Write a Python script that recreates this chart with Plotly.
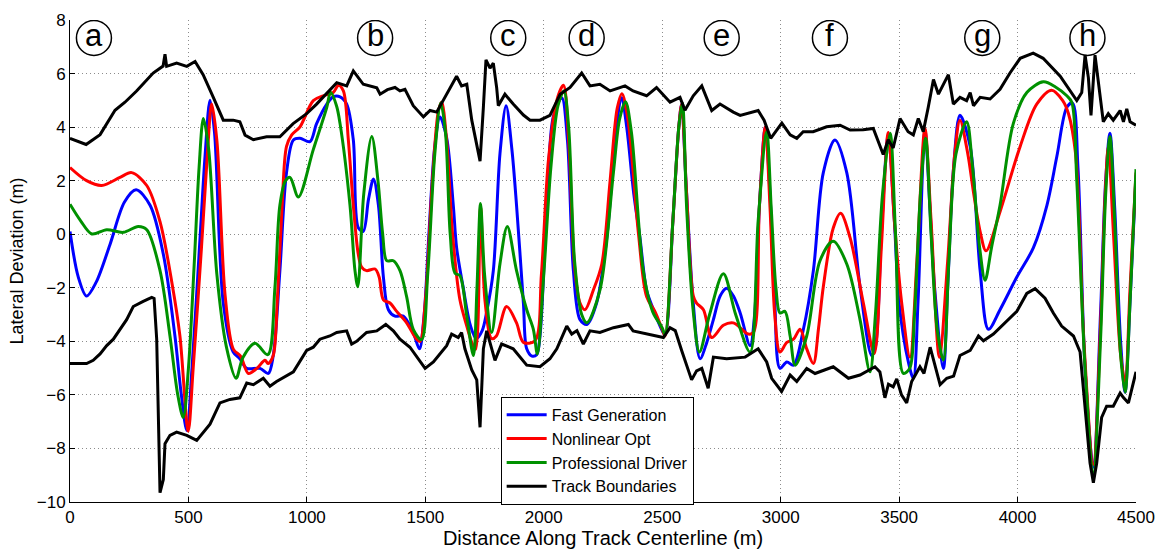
import plotly.graph_objects as go

# ---------------- data (distance m, lateral deviation m) ----------------
fast_generation = [
    (0, 0.1), (35, -1.6), (70, -2.31), (110, -1.8), (169, -0.38), (230, 1.2), (279, 1.66), (338, 1.08),
    (394, -0.75), (443, -3.8), (470, -6.0), (493, -7.33), (515, -5.0), (549, -0.13), (570, 2.91), (591, 5.0),
    (610, 3.8), (647, -2.57), (689, -4.4), (717, -4.65), (746, -5.01), (802, -5.01), (837, -5.2), (858, -4.53),
    (886, -1.36), (914, 2.3), (943, 3.52), (971, 3.58), (1013, 3.46), (1041, 4.13), (1084, 4.86), (1111, 5.13),
    (1140, 5.13), (1168, 4.86), (1196, 3.52), (1217, 0.24), (1238, 0.11), (1260, 1.3), (1281, 2.06), (1302, 1.08),
    (1323, -1.6), (1344, -2.82), (1372, -3.06), (1407, -3.06), (1449, -3.67), (1475, -4.28), (1495, -3.0),
    (1515, 0.0), (1540, 3.3), (1562, 4.38), (1590, 3.6), (1618, 1.08), (1632, -0.5), (1660, -2.0), (1690, -3.4),
    (1715, -3.9), (1740, -3.6), (1759, -2.9), (1787, -1.36), (1815, 3.0), (1841, 4.8), (1865, 3.2), (1885, 1.08),
    (1914, -2.57), (1928, -4.28), (1950, -4.55), (1970, -4.5), (1984, -3.8), (2013, 1.08), (2040, 4.38),
    (2076, 5.1), (2100, 3.5), (2125, -1.36), (2153, -3.19), (2182, -3.37), (2223, -2.57), (2266, -0.13),
    (2308, 4.13), (2329, 5.1), (2350, 4.0), (2380, 1.5), (2406, -0.13), (2434, -2.09), (2463, -2.82),
    (2497, -3.55), (2512, -3.75), (2545, 0.5), (2570, 4.0), (2582, 4.85), (2600, 2.0), (2631, -2.57),
    (2660, -4.65), (2688, -4.04), (2716, -3.19), (2745, -2.3), (2772, -2.02), (2800, -2.3), (2829, -2.94),
    (2871, -4.16), (2890, -3.0), (2910, 1.0), (2935, 4.0), (2955, 1.5), (2975, -2.5), (2997, -5.01),
    (3026, -4.77), (3054, -4.89), (3096, -3.55), (3138, -1.36), (3180, 2.3), (3229, 3.52), (3279, 2.3),
    (3335, -1.96), (3384, -4.53), (3400, -4.2), (3425, 0.0), (3454, 3.7), (3480, 0.5), (3500, -2.57),
    (3539, -4.77), (3560, -5.38), (3580, -2.5), (3609, 3.89), (3630, 1.0), (3650, -2.0), (3687, -5.01),
    (3705, -2.0), (3730, 2.5), (3757, 4.44), (3800, 3.28), (3842, -1.36), (3877, -3.55), (3926, -2.82),
    (3997, -1.6), (4067, -0.5), (4124, 1.08), (4166, 2.91), (4208, 4.74), (4232, 4.9), (4255, 2.5),
    (4285, -5.0), (4320, -8.7), (4350, -3.0), (4372, 2.0), (4390, 3.77), (4410, 1.0), (4435, -4.0),
    (4454, -5.9), (4475, -2.5), (4500, 2.2),
]

nonlinear_opt = [
    (0, 2.49), (70, 2.0), (134, 1.82), (211, 2.12), (260, 2.3), (324, 1.82), (380, 0.47), (430, -1.8),
    (464, -3.8), (499, -7.35), (520, -5.0), (555, -0.5), (580, 3.0), (598, 4.86), (620, 3.5), (655, -2.3),
    (690, -4.3), (720, -4.55), (753, -5.2), (790, -5.0), (823, -4.71), (837, -4.83), (858, -4.53),
    (875, -2.5), (895, 1.0), (914, 3.28), (936, 3.71), (971, 4.01), (1027, 4.99), (1069, 5.17), (1111, 5.29),
    (1133, 5.56), (1154, 5.35), (1175, 3.52), (1196, 1.08), (1217, -0.75), (1231, -1.23), (1252, -1.36),
    (1288, -1.3), (1305, -1.6), (1323, -2.45), (1351, -2.57), (1379, -2.88), (1421, -3.31), (1463, -3.92),
    (1478, -4.0), (1500, -2.5), (1530, 2.0), (1555, 4.6), (1569, 4.93), (1590, 3.5), (1615, 0.0),
    (1646, -2.45), (1675, -3.43), (1696, -4.04), (1712, -4.3), (1733, 1.0), (1752, -2.5), (1780, -3.9),
    (1800, -3.8), (1843, -2.7), (1885, -3.31), (1914, -4.04), (1963, -3.98), (1990, -1.5), (2020, 2.8),
    (2055, 5.0), (2083, 5.56), (2105, 3.5), (2130, -1.2), (2153, -2.57), (2174, -2.82), (2209, -2.09),
    (2245, -1.11), (2280, 2.0), (2310, 4.7), (2330, 5.25), (2355, 4.3), (2400, 0.0), (2434, -2.33),
    (2470, -2.9), (2500, -3.55), (2512, -3.8), (2545, 0.5), (2570, 4.0), (2582, 4.85), (2603, 1.5),
    (2631, -2.3), (2645, -2.57), (2674, -2.82), (2709, -3.86), (2758, -3.4), (2800, -3.31), (2863, -3.73),
    (2885, -3.67), (2910, 1.0), (2935, 4.0), (2955, 1.0), (2975, -3.0), (2997, -4.4), (3026, -4.04),
    (3054, -3.92), (3082, -3.55), (3110, -4.28), (3138, -4.83), (3160, -3.5), (3180, -1.96), (3222, 0.23),
    (3253, 0.78), (3293, -0.13), (3349, -2.57), (3395, -4.45), (3425, -0.5), (3454, 3.8), (3480, 0.5),
    (3510, -2.5), (3546, -4.59), (3575, -1.0), (3609, 3.95), (3635, 0.5), (3670, -4.59), (3705, -1.0),
    (3735, 3.0), (3757, 4.26), (3790, 3.0), (3814, 1.57), (3842, 0.1), (3867, -0.62), (3926, 0.84),
    (4011, 3.28), (4081, 4.86), (4144, 5.38), (4190, 5.0), (4215, 4.5), (4245, 3.0), (4280, -4.0),
    (4320, -8.6), (4350, -3.5), (4370, 1.5), (4383, 3.28), (4405, 0.0), (4435, -4.5), (4454, -5.5),
    (4475, -2.0), (4500, 2.3),
]

professional_driver = [
    (0, 1.12), (45, 0.5), (92, 0.01), (155, 0.17), (225, 0.07), (288, 0.29), (324, 0.17), (380, -1.36),
    (422, -3.8), (455, -6.0), (478, -6.84), (500, -5.0), (525, -1.0), (545, 2.5), (563, 4.32), (585, 3.2),
    (620, -1.5), (660, -4.2), (701, -5.38), (730, -4.6), (781, -4.07), (835, -4.5), (865, -2.0), (886, 1.08),
    (910, 2.0), (929, 2.12), (964, 1.39), (1027, 3.16), (1084, 4.74), (1100, 5.3), (1125, 4.8), (1140, 4.13),
    (1182, 1.08), (1203, -1.36), (1215, -1.96), (1240, 1.5), (1274, 3.65), (1300, 2.0), (1320, 0.0),
    (1337, -0.99), (1365, -0.99), (1393, -1.36), (1421, -2.33), (1449, -3.55), (1484, -3.94), (1510, -1.5),
    (1540, 3.0), (1565, 4.9), (1585, 3.8), (1605, 0.0), (1625, -1.45), (1646, -1.55), (1675, -3.06),
    (1703, -4.53), (1718, -2.0), (1733, 1.15), (1750, -1.5), (1780, -3.67), (1815, -1.11), (1846, 0.29),
    (1885, -1.36), (1928, -2.82), (1956, -3.55), (1973, -4.47), (2000, -1.5), (2030, 2.5), (2060, 4.8),
    (2085, 5.35), (2105, 4.0), (2130, -1.0), (2160, -3.0), (2182, -3.31), (2237, -2.09), (2294, 2.3),
    (2320, 4.3), (2345, 4.95), (2370, 3.8), (2420, -1.36), (2460, -2.9), (2500, -3.5), (2512, -3.75),
    (2545, 0.5), (2570, 4.0), (2585, 4.9), (2603, 1.0), (2630, -2.8), (2657, -4.4), (2700, -3.0),
    (2758, -1.48), (2810, -3.0), (2871, -4.4), (2905, 0.5), (2941, 3.83), (2960, 1.0), (2980, -2.0),
    (2997, -2.94), (3018, -2.88), (3040, -3.8), (3061, -4.89), (3110, -3.8), (3166, -0.99), (3222, -0.26),
    (3279, -1.11), (3335, -3.19), (3377, -5.14), (3400, -3.0), (3430, 1.5), (3462, 3.77), (3485, 0.0),
    (3518, -5.2), (3545, -5.0), (3565, -3.0), (3590, 1.5), (3612, 3.58), (3635, 0.0), (3660, -3.5),
    (3687, -4.7), (3710, -1.0), (3740, 3.0), (3785, 4.2), (3810, 2.5), (3840, -0.5), (3863, -1.72),
    (3890, -0.5), (3926, 1.08), (3982, 4.13), (4040, 5.3), (4109, 5.69), (4160, 5.5), (4208, 5.17),
    (4229, 4.93), (4250, 2.0), (4285, -5.0), (4320, -8.9), (4350, -4.0), (4372, 1.5), (4390, 3.65),
    (4410, 0.5), (4435, -4.5), (4454, -5.9), (4475, -2.5), (4500, 2.43),
]

upper_boundary = [
    (0, 3.58), (68, 3.35), (127, 3.72), (155, 4.13), (190, 4.63), (232, 4.93), (281, 5.35), (351, 6.02),
    (393, 6.28), (401, 6.72), (408, 6.27), (450, 6.39), (493, 6.27), (528, 6.45), (562, 5.96), (605, 5.11),
    (633, 4.5), (647, 4.26), (689, 4.26), (717, 4.2), (739, 3.7), (774, 3.53), (830, 3.64), (886, 3.64),
    (942, 4.13), (999, 4.5), (1041, 4.86), (1111, 5.55), (1126, 5.66), (1168, 5.54), (1196, 6.1),
    (1238, 5.6), (1295, 5.47), (1309, 5.23), (1340, 5.4), (1372, 5.48), (1393, 5.35), (1414, 5.41),
    (1449, 4.8), (1492, 4.38), (1520, 4.62), (1548, 4.56), (1576, 5.0), (1604, 5.48), (1632, 5.9),
    (1653, 5.54), (1675, 5.6), (1696, 4.26), (1717, 3.4), (1731, 2.73), (1745, 4.74), (1756, 6.51),
    (1773, 6.2), (1787, 6.39), (1801, 5.48), (1808, 4.8), (1836, 5.23), (1871, 4.86), (1914, 4.45),
    (1942, 4.26), (1984, 4.26), (2026, 4.44), (2069, 5.23), (2111, 5.48), (2160, 6.02), (2195, 5.54),
    (2237, 5.6), (2280, 5.35), (2343, 5.54), (2377, 5.35), (2434, 5.17), (2476, 5.48), (2533, 4.93),
    (2575, 5.11), (2596, 4.63), (2631, 5.17), (2667, 5.54), (2709, 4.62), (2744, 4.86), (2800, 4.56),
    (2829, 4.44), (2905, 4.62), (2930, 4.26), (2958, 3.58), (3005, 4.15), (3040, 3.71), (3068, 3.58),
    (3095, 3.83), (3137, 3.83), (3194, 4.01), (3251, 4.07), (3293, 3.89), (3348, 3.9), (3391, 3.95),
    (3433, 2.98), (3454, 3.53), (3475, 3.22), (3504, 4.32), (3538, 3.83), (3560, 3.71), (3581, 4.32),
    (3602, 3.83), (3623, 4.74), (3645, 5.78), (3666, 5.23), (3687, 5.6), (3708, 5.96), (3729, 4.86),
    (3757, 5.11), (3785, 4.99), (3800, 5.29), (3814, 4.8), (3842, 5.11), (3884, 5.05), (3926, 5.41),
    (3968, 6.02), (4011, 6.57), (4066, 6.76), (4108, 6.57), (4180, 5.9), (4250, 4.99), (4271, 5.29),
    (4285, 6.69), (4299, 5.84), (4310, 4.44), (4327, 6.69), (4341, 5.6), (4362, 4.2), (4383, 4.5),
    (4404, 4.26), (4433, 4.62), (4447, 4.2), (4461, 4.68), (4475, 4.2), (4500, 4.07),
]

lower_boundary = [
    (0, -4.83), (70, -4.83), (98, -4.71), (127, -4.47), (155, -4.16), (183, -3.92), (239, -3.19),
    (267, -2.7), (309, -2.51), (345, -2.36), (355, -2.4), (366, -3.92), (380, -9.65), (394, -9.16),
    (401, -7.82), (422, -7.51), (450, -7.39), (493, -7.51), (535, -7.7), (591, -7.09), (633, -6.3),
    (675, -6.17), (717, -6.11), (746, -5.56), (774, -5.62), (816, -5.38), (844, -5.68), (872, -5.5),
    (943, -5.14), (999, -4.34), (1027, -4.22), (1055, -3.92), (1097, -3.8), (1126, -3.67), (1168, -3.61),
    (1189, -4.1), (1210, -4.0), (1252, -3.67), (1295, -3.61), (1333, -3.37), (1365, -3.61), (1393, -3.92),
    (1435, -4.22), (1499, -5.01), (1534, -4.77), (1590, -4.16), (1611, -3.73), (1639, -3.86), (1653, -3.67),
    (1667, -4.28), (1696, -5.07), (1717, -5.44), (1731, -7.21), (1745, -4.28), (1759, -3.61), (1794, -4.71),
    (1822, -4.1), (1871, -4.28), (1928, -4.89), (1984, -4.95), (2026, -4.65), (2055, -4.28), (2097, -3.43),
    (2118, -3.73), (2140, -3.6), (2167, -4.1), (2195, -3.61), (2237, -3.67), (2294, -3.49), (2357, -3.37),
    (2377, -3.61), (2434, -3.73), (2505, -3.86), (2533, -3.49), (2555, -3.6), (2582, -4.34), (2603, -4.89),
    (2624, -5.44), (2645, -5.1), (2667, -5.01), (2694, -5.75), (2716, -4.59), (2772, -4.65), (2850, -4.59),
    (2905, -4.28), (2941, -4.77), (2962, -5.38), (2983, -5.62), (3004, -5.87), (3040, -5.26), (3068, -5.5),
    (3110, -5.01), (3145, -5.2), (3222, -4.95), (3286, -5.38), (3335, -5.26), (3398, -4.95), (3419, -5.14),
    (3440, -6.11), (3455, -5.6), (3475, -5.7), (3490, -5.4), (3510, -6.0), (3532, -6.3), (3553, -5.5),
    (3588, -4.95), (3605, -5.2), (3631, -4.22), (3652, -4.89), (3673, -5.62), (3701, -5.38), (3730, -5.3),
    (3757, -4.53), (3800, -4.34), (3835, -3.8), (3856, -3.98), (3898, -3.73), (3955, -3.25), (3997, -2.88),
    (4039, -2.21), (4074, -2.03), (4116, -2.39), (4151, -2.94), (4186, -3.43), (4236, -3.8), (4264, -4.4),
    (4285, -6.36), (4306, -8.55), (4320, -9.28), (4334, -8.55), (4355, -6.84), (4376, -6.42), (4404, -6.42),
    (4433, -5.93), (4447, -6.1), (4468, -6.3), (4500, -5.14),
]

corner_labels = ["a", "b", "c", "d", "e", "f", "g", "h"]
corner_x = [101, 1288, 1850, 2181, 2751, 3208, 3851, 4295]
corner_y = [7.33] * 8

x_ticks = [0, 500, 1000, 1500, 2000, 2500, 3000, 3500, 4000, 4500]
y_ticks = [-10, -8, -6, -4, -2, 0, 2, 4, 6, 8]

# ---------------- figure ----------------
FONT = "Liberation Sans, Arial, sans-serif"


def xs(pts):
    return [p[0] for p in pts]


def ys(pts):
    return [p[1] for p in pts]


fig = go.Figure()
series = [
    ("Fast Generation", fast_generation, "rgb(0,0,255)"),
    ("Nonlinear Opt", nonlinear_opt, "rgb(255,0,0)"),
    ("Professional Driver", professional_driver, "rgb(0,145,0)"),
]
for name, pts, col in series:
    fig.add_trace(go.Scatter(
        x=xs(pts), y=ys(pts), mode="lines", name=name,
        line=dict(color=col, width=3, shape="spline", smoothing=0.9),
    ))

fig.add_trace(go.Scatter(
    x=xs(upper_boundary), y=ys(upper_boundary), mode="lines", name="Track Boundaries",
    line=dict(color="black", width=3), legendgroup="tb",
))
fig.add_trace(go.Scatter(
    x=xs(lower_boundary), y=ys(lower_boundary), mode="lines", name="Track Boundaries",
    line=dict(color="black", width=3), legendgroup="tb", showlegend=False,
))

shapes = []
annotations = []
for lab, cx, cy in zip(corner_labels, corner_x, corner_y):
    shapes.append(dict(
        type="circle", xref="x", yref="y", xsizemode="pixel", ysizemode="pixel",
        xanchor=cx, yanchor=cy, x0=-17.5, x1=17.5, y0=-17.5, y1=17.5,
        line=dict(color="black", width=1.5), fillcolor="rgba(0,0,0,0)",
    ))
    annotations.append(dict(
        x=cx, y=cy, xref="x", yref="y", text=lab, showarrow=False,
        font=dict(family=FONT, size=31, color="black"), yshift=2,
    ))

GRID = dict(showgrid=True, gridcolor="rgb(140,140,140)", griddash="1px,3px", gridwidth=1)

fig.update_layout(
    width=1167, height=554,
    margin=dict(l=70, r=31, t=11, b=51),
    paper_bgcolor="white", plot_bgcolor="white",
    font=dict(family=FONT, size=17, color="black"),
    shapes=shapes, annotations=annotations,
    showlegend=True,
    legend=dict(
        x=0.404, y=0.218, xanchor="left", yanchor="top",
        bgcolor="white", bordercolor="black", borderwidth=1,
        font=dict(family=FONT, size=16, color="black"),
        tracegroupgap=0, itemwidth=40,
    ),
)
fig.update_xaxes(
    range=[0, 4500], tickvals=x_ticks, ticks="inside", ticklen=5, tickcolor="black",
    showline=True, linecolor="black", linewidth=1, mirror=False,
    zeroline=False, tickfont=dict(size=17),
    title=dict(text="Distance Along Track Centerline (m)", font=dict(size=20), standoff=2),
    **GRID,
)
fig.update_yaxes(
    range=[-10, 8], tickvals=y_ticks, ticktext=[("\u2212" + str(-v)) if v < 0 else str(v) for v in y_ticks],
    ticks="inside", ticklen=5, tickcolor="black",
    showline=True, linecolor="black", linewidth=1, mirror=False,
    zeroline=False, tickfont=dict(size=17),
    title=dict(text="Lateral Deviation (m)", font=dict(size=18), standoff=8),
    **GRID,
)

fig.write_html("out.html")
